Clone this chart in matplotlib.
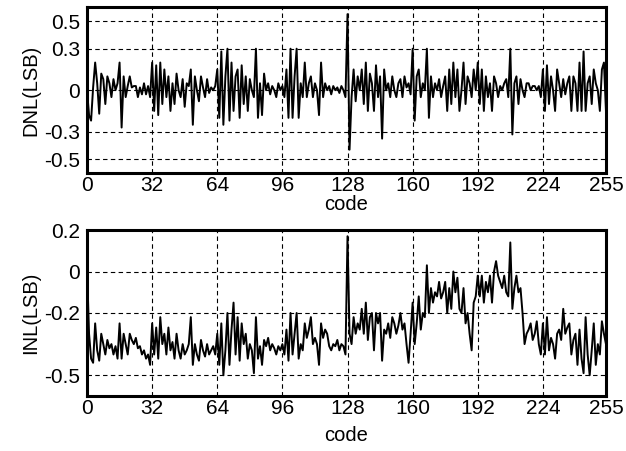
import numpy as np
import matplotlib.pyplot as plt

plt.rcParams['font.family'] = ['Liberation Sans', 'DejaVu Sans']

# =============================================================================
# Data
# =============================================================================

codes = np.arange(256)

dnl = [
    0.0, -0.18, -0.22, 0.02, 0.2, 0.05, -0.17, 0.12, 0.08, -0.1, 0.1, 0.05, -0.05, 0.08, 0.0, 0.05,
    0.2, -0.27, 0.1, -0.05, 0.03, 0.1, 0.02, 0.03, 0.03, -0.05, 0.02, -0.03, 0.05, -0.03, 0.03, -0.05,
    0.2, -0.15, 0.18, -0.18, 0.2, -0.1, 0.15, -0.05, 0.1, -0.15, 0.05, -0.1, 0.12, 0.0, -0.05, 0.08,
    -0.12, 0.05, 0.03, 0.15, -0.25, 0.1, 0.0, -0.08, 0.1, 0.02, -0.05, 0.08, -0.02, 0.02, 0.0, 0.03,
    0.15, -0.2, 0.28, -0.25, 0.1, 0.3, -0.22, 0.2, -0.15, 0.1, 0.15, -0.2, 0.18, -0.1, 0.1, -0.15,
    0.08, 0.0, -0.05, 0.3, -0.2, 0.05, -0.18, 0.12, 0.0, 0.05, -0.03, 0.03, 0.0, -0.05, 0.05, 0.0,
    0.03, -0.05, 0.15, -0.2, 0.3, -0.2, 0.1, 0.3, -0.2, 0.05, -0.05, 0.2, -0.05, 0.05, 0.1, -0.05,
    0.05, 0.0, -0.18, 0.2, -0.05, 0.05, 0.0, 0.03, -0.03, 0.03, 0.0, 0.02, -0.02, 0.03, 0.0, -0.05,
    0.55, -0.43, -0.05, 0.15, -0.08, 0.1, 0.0, 0.15, -0.1, 0.2, -0.15, 0.12, 0.05, -0.15, 0.18, -0.05,
    0.1, -0.35, 0.15, 0.0, 0.05, -0.05, 0.1, 0.0, -0.05, 0.05, 0.08, -0.05, 0.1, 0.02, 0.05, -0.03,
    0.3, -0.22, 0.1, 0.15, -0.05, 0.05, 0.0, 0.3, -0.2, 0.1, -0.05, 0.05, 0.0, 0.08, -0.05, 0.03,
    0.1, -0.15, 0.15, -0.1, 0.2, -0.05, 0.15, -0.15, 0.0, 0.2, -0.1, 0.1, 0.05, -0.05, 0.15, 0.0,
    0.2, -0.1, 0.15, -0.15, 0.1, -0.05, 0.05, -0.15, 0.1, 0.05, -0.05, 0.03, 0.0, 0.05, 0.08, -0.05,
    0.3, -0.32, 0.05, 0.1, -0.1, 0.08, 0.0, -0.05, 0.05, 0.05, 0.0, 0.03, 0.03, 0.0, 0.03, -0.05,
    0.15, -0.15, 0.18, -0.1, 0.1, 0.0, -0.15, 0.15, 0.05, -0.05, 0.08, -0.03, 0.05, 0.1, -0.15, 0.1,
    0.05, -0.15, 0.2, -0.15, 0.28, -0.15, 0.05, 0.1, -0.1, 0.15, 0.05, 0.0, -0.15, 0.15, 0.2, -0.15,
]

inl = [
    0.02, -0.3, -0.42, -0.44, -0.25, -0.38, -0.43, -0.3, -0.35, -0.4, -0.33, -0.37, -0.35, -0.4, -0.36, -0.42,
    -0.25, -0.42, -0.3, -0.35, -0.4, -0.3, -0.33, -0.35, -0.32, -0.37, -0.36, -0.4, -0.38, -0.42, -0.4, -0.45,
    -0.25, -0.4, -0.27, -0.42, -0.22, -0.35, -0.3, -0.4, -0.27, -0.38, -0.34, -0.42, -0.3, -0.38, -0.42, -0.35,
    -0.4, -0.38, -0.35, -0.22, -0.45, -0.35, -0.4, -0.43, -0.33, -0.38, -0.41, -0.35, -0.4, -0.38, -0.36, -0.4,
    -0.3, -0.45, -0.25, -0.5, -0.38, -0.2, -0.45, -0.28, -0.15, -0.4, -0.22, -0.43, -0.25, -0.35, -0.3, -0.42,
    -0.35, -0.38, -0.49, -0.22, -0.42, -0.36, -0.45, -0.33, -0.36, -0.32, -0.38, -0.35, -0.37, -0.4, -0.36, -0.38,
    -0.35, -0.4, -0.28, -0.43, -0.2, -0.4, -0.3, -0.2, -0.42, -0.35, -0.38, -0.25, -0.32, -0.28, -0.22, -0.35,
    -0.32, -0.35, -0.45, -0.25, -0.32, -0.28, -0.3, -0.36, -0.38, -0.35, -0.36, -0.33, -0.38, -0.35, -0.36, -0.4,
    0.17, -0.3, -0.35, -0.22, -0.3, -0.25, -0.28, -0.18, -0.3, -0.15, -0.33, -0.22, -0.2, -0.38, -0.2, -0.25,
    -0.2, -0.43, -0.28, -0.3, -0.25, -0.32, -0.22, -0.25, -0.3, -0.26, -0.2, -0.28, -0.25, -0.35, -0.44, -0.3,
    -0.15, -0.35, -0.25, -0.12, -0.28, -0.2, -0.22, 0.03, -0.2, -0.08, -0.15, -0.1, -0.12, -0.05, -0.13, -0.1,
    -0.05, -0.2, -0.08, -0.18, 0.0, -0.1, -0.03, -0.18, -0.2, -0.08, -0.25, -0.2, -0.3, -0.38, -0.15, -0.12,
    -0.02, -0.12, -0.02, -0.15, -0.05, -0.1, -0.02, -0.15, 0.0, 0.05, -0.02, -0.05, -0.08, -0.02, -0.1, -0.12,
    0.14, -0.18, -0.08, -0.02, -0.1, -0.08, -0.2, -0.35, -0.3, -0.28, -0.25, -0.33, -0.3, -0.24, -0.35, -0.4,
    -0.25, -0.4, -0.22, -0.38, -0.32, -0.35, -0.42, -0.3, -0.28, -0.33, -0.18, -0.3, -0.27, -0.25, -0.4, -0.33,
    -0.3, -0.45, -0.28, -0.42, -0.49, -0.22, -0.4, -0.5, -0.38, -0.25, -0.45, -0.35, -0.4, -0.24, -0.3, -0.35,
]

x_ticks = [0, 32, 64, 96, 128, 160, 192, 224, 255]
dnl_ticks = [0.5, 0.3, 0, -0.3, -0.5]
dnl_tick_labels = ['0.5', '0.3', '0', '-0.3', '-0.5']
inl_ticks = [0.2, 0, -0.2, -0.5]
inl_tick_labels = ['0.2', '0', '-0.2', '-0.5']


def style_axes(ax, yticks, ylabels, ylim, ylabel, xpad):
    ax.set_xlim(0, 255)
    ax.set_ylim(*ylim)
    ax.set_xticks(x_ticks)
    ax.set_xticklabels([str(t) for t in x_ticks])
    ax.set_yticks(yticks)
    ax.set_yticklabels(ylabels)
    ax.tick_params(length=0, labelsize=15)
    ax.tick_params(axis='x', pad=2)
    ax.tick_params(axis='y', pad=5)
    ax.grid(True, color='black', linestyle=(0, (4, 3)), linewidth=0.8)
    for sp in ax.spines.values():
        sp.set_linewidth(2.2)
    ax.set_xlabel('code', fontsize=14.5, labelpad=xpad)
    ax.set_ylabel(ylabel, fontsize=14.5, labelpad=3)


fig = plt.figure(figsize=(6.26, 4.51), dpi=100)
ax1 = fig.add_axes([0.139, 0.616, 0.829, 0.368])
ax2 = fig.add_axes([0.139, 0.122, 0.829, 0.368])

ax1.plot(codes, dnl, color='black', linewidth=1.4)
style_axes(ax1, dnl_ticks, dnl_tick_labels, (-0.6, 0.6), 'DNL(LSB)', 0)

ax2.plot(codes, inl, color='black', linewidth=1.4)
style_axes(ax2, inl_ticks, inl_tick_labels, (-0.6, 0.2), 'INL(LSB)', 6)

fig.savefig('out.png', dpi=100)
